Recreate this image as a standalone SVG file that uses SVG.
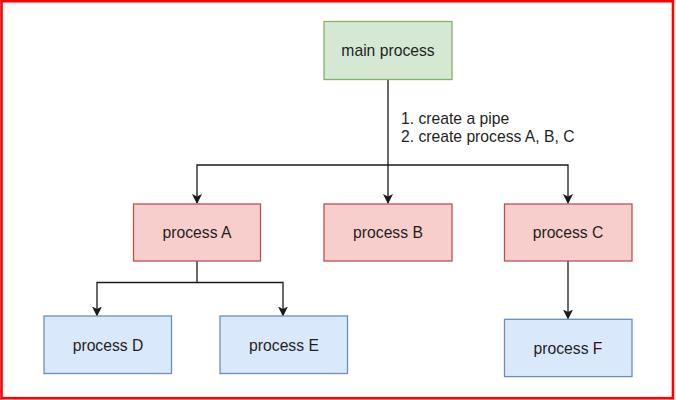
<svg xmlns="http://www.w3.org/2000/svg" width="676" height="400" viewBox="0 0 676 400">
<defs>
<marker id="arr" viewBox="0 0 10 10" refX="9" refY="5" markerWidth="10" markerHeight="10" markerUnits="userSpaceOnUse" orient="auto">
<path d="M0,0 L10,5 L0,10 L2.5,5 Z" fill="#1a1a1a"/>
</marker>
</defs>
<style>
.lbl{font-family:"Liberation Sans",Arial,sans-serif;font-size:15.7px;fill:#1f1f1f;text-anchor:middle}
.note{font-family:"Liberation Sans",Arial,sans-serif;font-size:15.7px;fill:#1f1f1f}
.g{fill:#d5e8d4;stroke:#82b366;stroke-width:1.3}
.r{fill:#f8cecc;stroke:#b85450;stroke-width:1.3}
.b{fill:#dae8fc;stroke:#6c8ebf;stroke-width:1.3}
.c{fill:none;stroke:#1a1a1a;stroke-width:1.3}
</style>
<rect width="676" height="400" fill="#ffffff"/>
<rect x="1.5" y="1.2" width="671.5" height="397" fill="none" stroke="#ff0000" stroke-width="2.6"/>
<g id="connectors">
<path class="c" d="M388,79 V165 H197 V203" marker-end="url(#arr)"/>
<path class="c" d="M388,165 V203" marker-end="url(#arr)"/>
<path class="c" d="M388,165 H568 V203" marker-end="url(#arr)"/>
<path class="c" d="M197,261 V282.5 H97 V315.5" marker-end="url(#arr)"/>
<path class="c" d="M197,282.5 H283 V315.5" marker-end="url(#arr)"/>
<path class="c" d="M568,261 V318.5" marker-end="url(#arr)"/>
<text class="note" x="401" y="123.5">1. create a pipe</text>
<text class="note" x="401" y="141.5">2. create process A, B, C</text>
</g>
<g id="main"><rect class="g" x="324" y="21.5" width="128" height="58"/><text class="lbl" x="388" y="56">main process</text></g>
<g id="procA"><rect class="r" x="133.5" y="204" width="127" height="57"/><text class="lbl" x="197" y="238">process A</text></g>
<g id="procB"><rect class="r" x="324" y="204" width="128" height="57"/><text class="lbl" x="388" y="238">process B</text></g>
<g id="procC"><rect class="r" x="504.5" y="204" width="127.5" height="57"/><text class="lbl" x="568" y="238">process C</text></g>
<g id="procD"><rect class="b" x="44" y="316" width="127.5" height="57.5"/><text class="lbl" x="108" y="350.5">process D</text></g>
<g id="procE"><rect class="b" x="220" y="316" width="127.5" height="57.5"/><text class="lbl" x="284" y="350.5">process E</text></g>
<g id="procF"><rect class="b" x="504.5" y="319.3" width="127.5" height="57.3"/><text class="lbl" x="568" y="353.5">process <tspan fill="#3d0d0d">F</tspan></text></g>
</svg>
